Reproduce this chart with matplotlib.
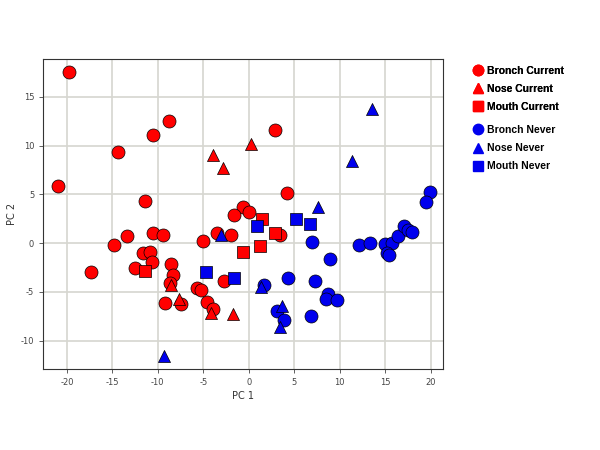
import matplotlib.pyplot as plt
from matplotlib.lines import Line2D

plt.rcParams['axes.unicode_minus'] = False

# PCA scores
bronch_cur_x = [-19.8, -21.0, -14.4, -10.5, -8.8, -11.4, 2.9, 4.2, -0.6, 0.0, -1.6, -3.5, -1.9, 3.4,
                -5.0, -14.8, -13.4, -10.5, -9.4, -11.6, -10.9, -10.6, -12.5, -17.3, -8.6, -8.3, -8.7,
                -5.7, -5.3, -2.7, -9.2, -7.5, -4.6, -3.9]
bronch_cur_y = [17.6, 5.9, 9.4, 11.1, 12.5, 4.3, 11.6, 5.2, 3.7, 3.2, 2.9, 1.0, 0.8, 0.8,
                0.2, -0.2, 0.7, 1.1, 0.8, -1.0, -0.9, -1.9, -2.5, -2.9, -2.1, -3.3, -4.1,
                -4.6, -4.8, -3.9, -6.1, -6.2, -6.0, -6.7]
nose_cur_x = [-3.9, -2.8, 0.2, -8.5, -7.7, -4.2, -1.7]
nose_cur_y = [9.0, 7.7, 10.2, -4.3, -5.7, -7.2, -7.3]
mouth_cur_x = [-11.4, -0.6, 1.5, 2.9, 1.2]
mouth_cur_y = [-2.8, -0.9, 2.5, 1.0, -0.3]

bronch_nev_x = [19.9, 19.5, 6.9, 8.9, 4.3, 7.3, 1.7, 8.7, 8.5, 9.7, 3.1, 3.9, 6.8,
                12.1, 13.3, 15.0, 15.7, 15.2, 15.4, 16.4, 17.1, 17.5, 17.9]
bronch_nev_y = [5.3, 4.2, 0.1, -1.6, -3.6, -3.9, -4.3, -5.2, -5.7, -5.8, -7.0, -7.9, -7.5,
                -0.2, 0.0, -0.1, 0.0, -1.0, -1.2, 0.7, 1.8, 1.4, 1.2]
nose_nev_x = [13.6, 11.4, 7.6, -3.0, -9.3, 1.3, 3.7, 3.4]
nose_nev_y = [13.8, 8.4, 3.7, 0.8, -11.6, -4.5, -6.4, -8.6]
mouth_nev_x = [-4.7, -1.6, 0.9, 5.2, 6.7]
mouth_nev_y = [-3.0, -3.6, 1.8, 2.5, 2.0]

red = '#ff0000'
blue = '#0000ee'

fig = plt.figure(figsize=(6, 4.5), dpi=100)
ax = fig.add_axes([0.072, 0.18, 0.667, 0.689])

groups = [
    (bronch_cur_x, bronch_cur_y, 'o', red, 88),
    (nose_cur_x, nose_cur_y, '^', red, 75),
    (mouth_cur_x, mouth_cur_y, 's', red, 80),
    (bronch_nev_x, bronch_nev_y, 'o', blue, 88),
    (nose_nev_x, nose_nev_y, '^', blue, 75),
    (mouth_nev_x, mouth_nev_y, 's', blue, 80),
]
for gx, gy, m, c, s in groups:
    ax.scatter(gx, gy, marker=m, s=s, c=c, edgecolors='black', linewidths=0.5, zorder=3)

ax.set_xlim(-22.6, 21.4)
ax.set_ylim(-12.9, 18.9)
ax.set_xticks(range(-20, 21, 5))
ax.set_yticks([-10, -5, 0, 5, 10, 15])
ax.grid(True, color='#d6d6d0', linewidth=1.2, zorder=0)
ax.set_axisbelow(True)
ax.tick_params(labelsize=6, colors='#444444', length=3, width=0.6)
for sp in ax.spines.values():
    sp.set_color('#333333')
    sp.set_linewidth(0.8)
ax.set_xlabel('PC 1', fontsize=7, color='#333333', labelpad=3)
ax.set_ylabel('PC 2', fontsize=7, color='#333333', labelpad=3)

# legend in two blocks
def handle(m, c):
    return Line2D([], [], marker=m, color=c, linestyle='none', markersize=7.5)

lab_font = {'family': 'Liberation Sans', 'weight': 'bold', 'size': 7.5}
leg1 = fig.legend([handle('o', red), handle('^', red), handle('s', red)],
                  ['Bronch Current', 'Nose Current', 'Mouth Current'],
                  loc='upper left', bbox_to_anchor=(0.77, 0.875), frameon=False,
                  prop=lab_font, handletextpad=0.3, labelspacing=0.78, handlelength=1.2)
fig.legend([handle('o', blue), handle('^', blue), handle('s', blue)],
           ['Bronch Never', 'Nose Never', 'Mouth Never'],
           loc='upper left', bbox_to_anchor=(0.77, 0.743), frameon=False,
           prop=lab_font, handletextpad=0.3, labelspacing=0.78, handlelength=1.2)
fig.add_artist(leg1)

fig.savefig('out.png', dpi=100)
